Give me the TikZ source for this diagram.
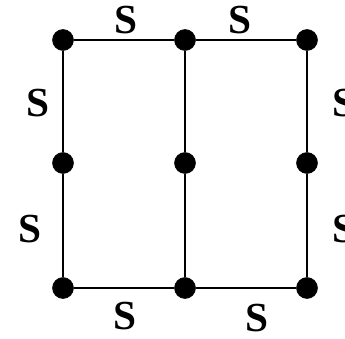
\documentclass[tikz,border=0pt]{standalone}
\usepackage{fontspec}
\setmainfont{Liberation Serif}
\begin{document}
\begin{tikzpicture}[x=0.75pt,y=-0.75pt,
	vertex/.style={ circle, draw, fill, inner sep=0pt, minimum size=15.75pt },
	edgelbl/.style={ font=\fontsize{31}{36}\selectfont\bfseries, inner sep=0pt }
]
\useasboundingbox (0,0) rectangle (345,338);

\node at (63,40) (tl) [vertex] {};
\node at (185,40) (tm) [vertex] {};
\node at (307,40) (tr) [vertex] {};
\node at (63,163) (ml) [vertex] {};
\node at (185,163) (mm) [vertex] {};
\node at (307,163) (mr) [vertex] {};
\node at (63,288) (bl) [vertex] {};
\node at (185,288) (bm) [vertex] {};
\node at (307,288) (br) [vertex] {};

\draw[line width=1.5pt] (tl) -- (tm) -- (tr);
\draw[line width=1.5pt] (bl) -- (bm) -- (br);
\foreach \c in {l,m,r} \draw[line width=1.5pt] (t\c) -- (m\c) -- (b\c);

\node at (126,20) (s1) [edgelbl] {S};
\node at (240,20) (s2) [edgelbl] {S};
\node at (38,103) (s3) [edgelbl] {S};
\node at (30,229) (s4) [edgelbl] {S};
\node at (344,103) (s5) [edgelbl] {S};
\node at (344,229) (s6) [edgelbl] {S};
\node at (125,316) (s7) [edgelbl] {S};
\node at (257,318) (s8) [edgelbl] {S};

\end{tikzpicture}
\end{document}
